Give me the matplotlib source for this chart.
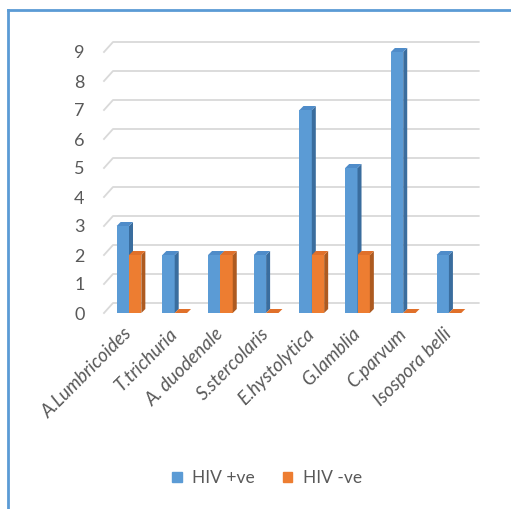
import numpy as np
import matplotlib.pyplot as plt
from matplotlib.lines import Line2D
from matplotlib.patches import Patch, Polygon

# Parasite counts by HIV status
parasites = ['A.Lumbricoides', 'T.trichuria', 'A. duodenale', 'S.stercolaris',
             'E.hystolytica', 'G.lamblia', 'C.parvum', 'Isospora belli']
hiv_pos = [3, 2, 2, 2, 7, 5, 9, 2]
hiv_neg = [2, 0, 2, 0, 2, 2, 0, 0]
yticks = [0, 1, 2, 3, 4, 5, 6, 7, 8, 9]

blue, blue_top, blue_side = '#5b9bd5', '#4f8cc9', '#3a6d9e'
orange, orange_top, orange_side = '#ed7d31', '#e0702a', '#ad5a20'
grey_txt = '#595959'
grid_c = '#d9d9d9'
fonts = ['Lato', 'DejaVu Sans']

W, H = 511, 509
fig = plt.figure(figsize=(W / 100, H / 100), dpi=100)
ax = fig.add_axes([104 / W, 1 - 313 / H, (472 - 104) / W, (313 - 52) / H])

x = np.arange(len(parasites))
w = 0.27
ax.set_xlim(-0.547, 7.505)
ax.set_ylim(0, 9)

# pixel -> data conversion for the 3D depth
ppx = (472 - 104) / (7.505 + 0.547)
ppy = (313 - 52) / 9
ddx, ddy = 4 / ppx, 4 / ppy

for xs, vals, c, ct, cs in [(x - w / 2, hiv_pos, blue, blue_top, blue_side),
                            (x + w / 2, hiv_neg, orange, orange_top, orange_side)]:
    for xc, v in zip(xs, vals):
        l, r = xc - w / 2, xc + w / 2
        ax.bar(xc, v, w, color=c, zorder=3, clip_on=False)
        ax.add_patch(Polygon([(r, 0), (r + ddx, ddy), (r + ddx, v + ddy), (r, v)],
                             closed=True, color=cs, zorder=3, clip_on=False, lw=0))
        ax.add_patch(Polygon([(l, v), (l + ddx, v + ddy), (r + ddx, v + ddy), (r, v)],
                             closed=True, color=ct, zorder=3, clip_on=False, lw=0))

# back-wall gridlines with 3D slant to the front edge
bx, by = 9 / ppx, 10 / ppy
x0, x1 = ax.get_xlim()
for t in yticks:
    ax.plot([x0, x0 + bx, x1 + bx - 0.05], [t, t + by, t + by], color=grid_c, lw=1.3,
            zorder=1, clip_on=False)

for s in ax.spines.values():
    s.set_visible(False)
ax.set_yticks(yticks)
ax.tick_params(axis='y', length=0, pad=14, labelsize=13, labelcolor=grey_txt)
ax.tick_params(axis='x', length=0, pad=13)
ax.set_xticks(x)
ax.set_xticklabels(parasites, rotation=45, ha='right', va='center',
                   rotation_mode='anchor', fontstyle='italic', fontsize=13.5,
                   color=grey_txt)
for lab in ax.get_yticklabels() + ax.get_xticklabels():
    lab.set_fontfamily(fonts)

handles = [Patch(color=blue, label='HIV +ve'), Patch(color=orange, label='HIV -ve')]
leg = fig.legend(handles=handles, loc='center', bbox_to_anchor=(267 / W, 1 - 478 / H),
                 ncol=2, frameon=False, handlelength=0.55, handleheight=0.55,
                 handletextpad=0.6, columnspacing=1.6,
                 prop={'family': fonts, 'size': 12.5})
for t in leg.get_texts():
    t.set_color(grey_txt)

# blue border (top and left edges)
fig.add_artist(Line2D([8 / W, 1], [1 - 10 / H, 1 - 10 / H], transform=fig.transFigure,
                      color=blue, linewidth=2))
fig.add_artist(Line2D([8 / W, 8 / W], [0, 1 - 10 / H], transform=fig.transFigure,
                      color=blue, linewidth=2))

fig.savefig('out.png', dpi=100)
